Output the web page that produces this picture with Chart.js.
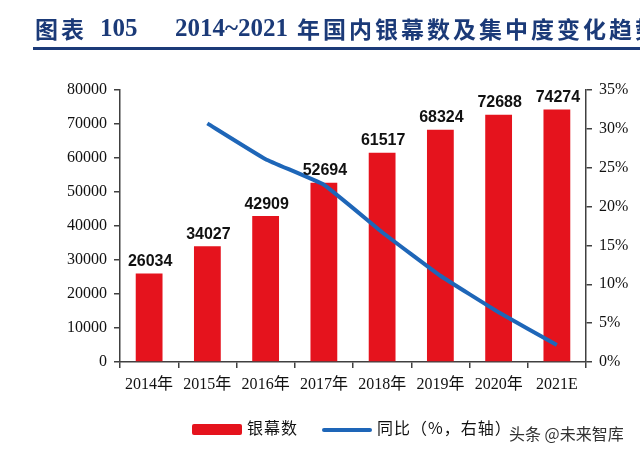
<!DOCTYPE html>
<html>
<head>
<meta charset="utf-8">
<script src="https://cdn.jsdelivr.net/npm/chart.js@4.4.1/dist/chart.umd.min.js"></script>
<style>
  html, body { margin:0; padding:0; background:#fff; }
  #wrap { position:relative; width:640px; height:455px; overflow:hidden; }
  #c { position:absolute; left:0; top:0; }
  .tt { position:absolute; top:12px; white-space:nowrap; font-weight:bold; color:#1B3A78; line-height:32px; }
  .ts { font-family:"Liberation Serif",serif; font-size:25px; }
  .tc { font-family:"Noto Sans CJK SC",sans-serif; font-size:23px; letter-spacing:3px; }
  #rule { position:absolute; left:33px; top:47px; width:607px; height:3px; background:#1B3A78; }
  .leg { position:absolute; top:417px; font-family:"Noto Sans CJK SC",sans-serif; font-size:16px; color:#111; line-height:20px; letter-spacing:1px; }
  #wm { position:absolute; left:509px; top:421px; font-family:"Noto Sans CJK SC",sans-serif; font-size:16px; color:#333; }
</style>
</head>
<body>
<div id="wrap">
  <canvas id="c" width="640" height="455"></canvas>
  <div class="tt tc" style="left:35px;">图表</div>
  <div class="tt ts" style="left:100px;">105</div>
  <div class="tt ts" style="left:175px;">2014~2021</div>
  <div class="tt tc" style="left:297px;">年国内银幕数及集中度变化趋势</div>
  <div id="rule"></div>
  <div class="leg" style="left:192px;"><span style="display:inline-block;width:50px;height:11px;background:#E5131D;border-radius:2px;vertical-align:middle;margin-right:5px;"></span>银幕数</div>
  <div class="leg" style="left:322px;"><span style="display:inline-block;width:50px;height:4px;background:#1E66B8;border-radius:2px;vertical-align:middle;margin-right:5px;"></span>同比（%，右轴）</div>
  <div id="wm">头条 @未来智库</div>
</div>
<script>
const categories = ["2014年","2015年","2016年","2017年","2018年","2019年","2020年","2021E"];
const screens = [26034, 34027, 42909, 52694, 61517, 68324, 72688, 74274];
const yoy = [null, 30.7, 26.1, 22.8, 16.7, 11.1, 6.4, 2.2];
const leftTicks = [0,10000,20000,30000,40000,50000,60000,70000,80000];
const rightTicks = [0,5,10,15,20,25,30,35];

const axisColor = '#404040';
const tickFont = { family: '"Liberation Serif", "Noto Sans CJK SC", serif', size: 16 };

const valueLabels = {
  id: 'valueLabels',
  afterDatasetsDraw(chart) {
    const ctx = chart.ctx;
    const meta = chart.getDatasetMeta(1);
    ctx.save();
    ctx.font = 'bold 16px "Liberation Sans", Arial, sans-serif';
    ctx.fillStyle = '#111';
    ctx.textAlign = 'center';
    ctx.textBaseline = 'bottom';
    meta.data.forEach((el, i) => {
      ctx.fillText(String(screens[i]), el.x + 1, el.y - 4);
    });
    ctx.restore();
  }
};

new Chart(document.getElementById('c'), {
  data: {
    labels: categories,
    datasets: [
      {
        type: 'line', label: '同比（%，右轴）', data: yoy, yAxisID: 'y1',
        borderColor: '#1E66B8', borderWidth: 4, pointRadius: 0, tension: 0.1,
        order: 0, spanGaps: false
      },
      {
        type: 'bar', label: '银幕数', data: screens, yAxisID: 'y',
        backgroundColor: '#E5131D', barPercentage: 0.92, categoryPercentage: 0.5,
        order: 1
      }
    ]
  },
  options: {
    responsive: false, animation: false, devicePixelRatio: 1,
    layout: { padding: { left: 0, right: 0, top: 90, bottom: 63 } },
    plugins: { legend: { display: false }, tooltip: { enabled: false } },
    scales: {
      x: {
        offset: true,
        grid: { offset: true, drawOnChartArea: false, drawTicks: true, tickLength: 6, color: axisColor, lineWidth: 1.5 },
        border: { display: true, color: axisColor, width: 1.5 },
        ticks: { color: '#111', font: tickFont, padding: 7, maxRotation: 0, autoSkip: false },
        afterFit(s) { s.height = 30; }
      },
      y: {
        position: 'left', min: 0, max: 80000,
        afterBuildTicks(s) { s.ticks = leftTicks.map(v => ({ value: v })); },
        grid: { drawOnChartArea: false, drawTicks: true, tickLength: 6, color: axisColor, lineWidth: 1.5 },
        border: { display: true, color: axisColor, width: 1.5 },
        ticks: { color: '#111', font: tickFont, padding: 7, callback: v => String(v) },
        afterFit(s) { s.width = 120; }
      },
      y1: {
        position: 'right', min: 0, max: 35,
        afterBuildTicks(s) { s.ticks = rightTicks.map(v => ({ value: v })); },
        grid: { drawOnChartArea: false, drawTicks: true, tickLength: 6, color: axisColor, lineWidth: 1.5 },
        border: { display: true, color: axisColor, width: 1.5 },
        ticks: { color: '#111', font: tickFont, padding: 7, callback: v => v + '%' },
        afterFit(s) { s.width = 54; }
      }
    }
  },
  plugins: [valueLabels]
});
</script>
</body>
</html>
